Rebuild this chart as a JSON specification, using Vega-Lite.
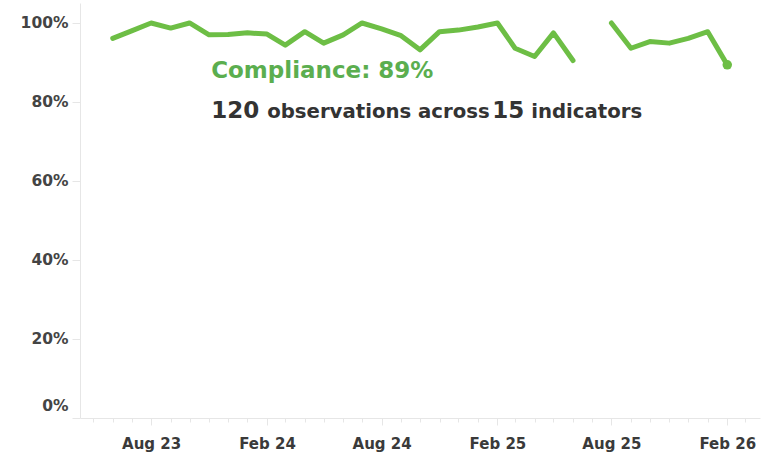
{
  "$schema": "https://vega.github.io/schema/vega-lite/v6.json",
  "width": 680,
  "height": 415,
  "autosize": {"type": "none"},
  "padding": {"left": 80, "top": 3, "right": 20, "bottom": 45},
  "background": "white",
  "config": {"view": {"stroke": null}},
  "datasets": {
    "series": [
      {"date": "2023-06-01T00:00", "compliance": 0.961},
      {"date": "2023-07-01T00:00", "compliance": 0.980},
      {"date": "2023-08-01T00:00", "compliance": 1.000},
      {"date": "2023-09-01T00:00", "compliance": 0.987},
      {"date": "2023-10-01T00:00", "compliance": 1.000},
      {"date": "2023-11-01T00:00", "compliance": 0.970},
      {"date": "2023-12-01T00:00", "compliance": 0.971},
      {"date": "2024-01-01T00:00", "compliance": 0.975},
      {"date": "2024-02-01T00:00", "compliance": 0.972},
      {"date": "2024-03-01T00:00", "compliance": 0.944},
      {"date": "2024-04-01T00:00", "compliance": 0.978},
      {"date": "2024-05-01T00:00", "compliance": 0.949},
      {"date": "2024-06-01T00:00", "compliance": 0.970},
      {"date": "2024-07-01T00:00", "compliance": 1.000},
      {"date": "2024-08-01T00:00", "compliance": 0.985},
      {"date": "2024-09-01T00:00", "compliance": 0.968},
      {"date": "2024-10-01T00:00", "compliance": 0.932},
      {"date": "2024-11-01T00:00", "compliance": 0.978},
      {"date": "2024-12-01T00:00", "compliance": 0.982},
      {"date": "2025-01-01T00:00", "compliance": 0.990},
      {"date": "2025-02-01T00:00", "compliance": 1.000},
      {"date": "2025-03-01T00:00", "compliance": 0.936},
      {"date": "2025-04-01T00:00", "compliance": 0.915},
      {"date": "2025-05-01T00:00", "compliance": 0.975},
      {"date": "2025-06-01T00:00", "compliance": 0.905},
      {"date": "2025-07-01T00:00", "compliance": null},
      {"date": "2025-08-01T00:00", "compliance": 1.000},
      {"date": "2025-09-01T00:00", "compliance": 0.936},
      {"date": "2025-10-01T00:00", "compliance": 0.953},
      {"date": "2025-11-01T00:00", "compliance": 0.949},
      {"date": "2025-12-01T00:00", "compliance": 0.961},
      {"date": "2026-01-01T00:00", "compliance": 0.978},
      {"date": "2026-02-01T00:00", "compliance": 0.894}
    ],
    "notes": [
      {"date": "2023-11-04T07:00", "compliance": 0.8608, "text": "Compliance: 89%", "kind": "title"},
      {"date": "2023-11-04T07:00", "compliance": 0.7595, "text": "120", "kind": "big"},
      {"date": "2024-02-01T08:00", "compliance": 0.7595, "text": "observations across", "kind": "small"},
      {"date": "2025-01-23T17:00", "compliance": 0.7595, "text": "15", "kind": "big"},
      {"date": "2025-03-26T14:00", "compliance": 0.7595, "text": "indicators", "kind": "small"}
    ]
  },
  "encoding": {
    "x": {
      "field": "date",
      "type": "temporal",
      "scale": {"domain": [{"year": 2023, "month": 4, "date": 10}, {"year": 2026, "month": 3, "date": 25}]},
      "axis": {
        "title": null,
        "grid": false,
        "tickCount": {"interval": "month", "step": 1},
        "labelExpr": "(month(datum.value) == 1 || month(datum.value) == 7) ? timeFormat(datum.value, '%b %y') : ''",
        "labelOverlap": false,
        "labelFont": "DejaVu Sans",
        "labelFontSize": 15,
        "labelFontWeight": "bold",
        "labelColor": "#3a3a3a",
        "labelPadding": 11,
        "domainColor": "#e6e6e6",
        "tickColor": "#e6e6e6",
        "tickSize": {"condition": {"test": "month(datum.value) == 1 || month(datum.value) == 7", "value": 7}, "value": 4}
      }
    },
    "y": {
      "field": "compliance",
      "type": "quantitative",
      "scale": {"domain": [0, 1.0506], "nice": false, "zero": true},
      "axis": {
        "title": null,
        "grid": false,
        "values": [0, 0.2, 0.4, 0.6, 0.8, 1],
        "format": ".0%",
        "labelFont": "DejaVu Sans",
        "labelFontSize": 15.5,
        "labelFontWeight": "bold",
        "labelColor": "#444444",
        "labelPadding": 4,
        "labelFlush": true,
        "labelFlushOffset": -5,
        "domainColor": "#e6e6e6",
        "tickColor": "#e6e6e6",
        "tickSize": 8
      }
    }
  },
  "layer": [
    {
      "data": {"name": "series", "format": {"parse": {"date": "date"}}},
      "mark": {"type": "line", "color": "#6DBE45", "strokeWidth": 5, "strokeCap": "round", "strokeJoin": "round", "invalid": "break-paths-show-domains"}
    },
    {
      "data": {"name": "series", "format": {"parse": {"date": "date"}}},
      "transform": [{"filter": "year(datum.date) == 2026 && month(datum.date) == 1"}],
      "mark": {"type": "circle", "color": "#6DBE45", "size": 90, "opacity": 1}
    },
    {
      "data": {"name": "notes", "format": {"parse": {"date": "date"}}},
      "transform": [{"filter": "datum.kind == 'title'"}],
      "mark": {"type": "text", "align": "left", "baseline": "alphabetic", "font": "DejaVu Sans", "fontSize": 23, "fontWeight": "bold", "color": "#5BAE4F"},
      "encoding": {"text": {"field": "text"}}
    },
    {
      "data": {"name": "notes", "format": {"parse": {"date": "date"}}},
      "transform": [{"filter": "datum.kind == 'big'"}],
      "mark": {"type": "text", "align": "left", "baseline": "alphabetic", "font": "DejaVu Sans", "fontSize": 23, "fontWeight": "bold", "color": "#333333"},
      "encoding": {"text": {"field": "text"}}
    },
    {
      "data": {"name": "notes", "format": {"parse": {"date": "date"}}},
      "transform": [{"filter": "datum.kind == 'small'"}],
      "mark": {"type": "text", "align": "left", "baseline": "alphabetic", "font": "DejaVu Sans", "fontSize": 19.7, "fontWeight": "bold", "color": "#333333"},
      "encoding": {"text": {"field": "text"}}
    }
  ]
}
